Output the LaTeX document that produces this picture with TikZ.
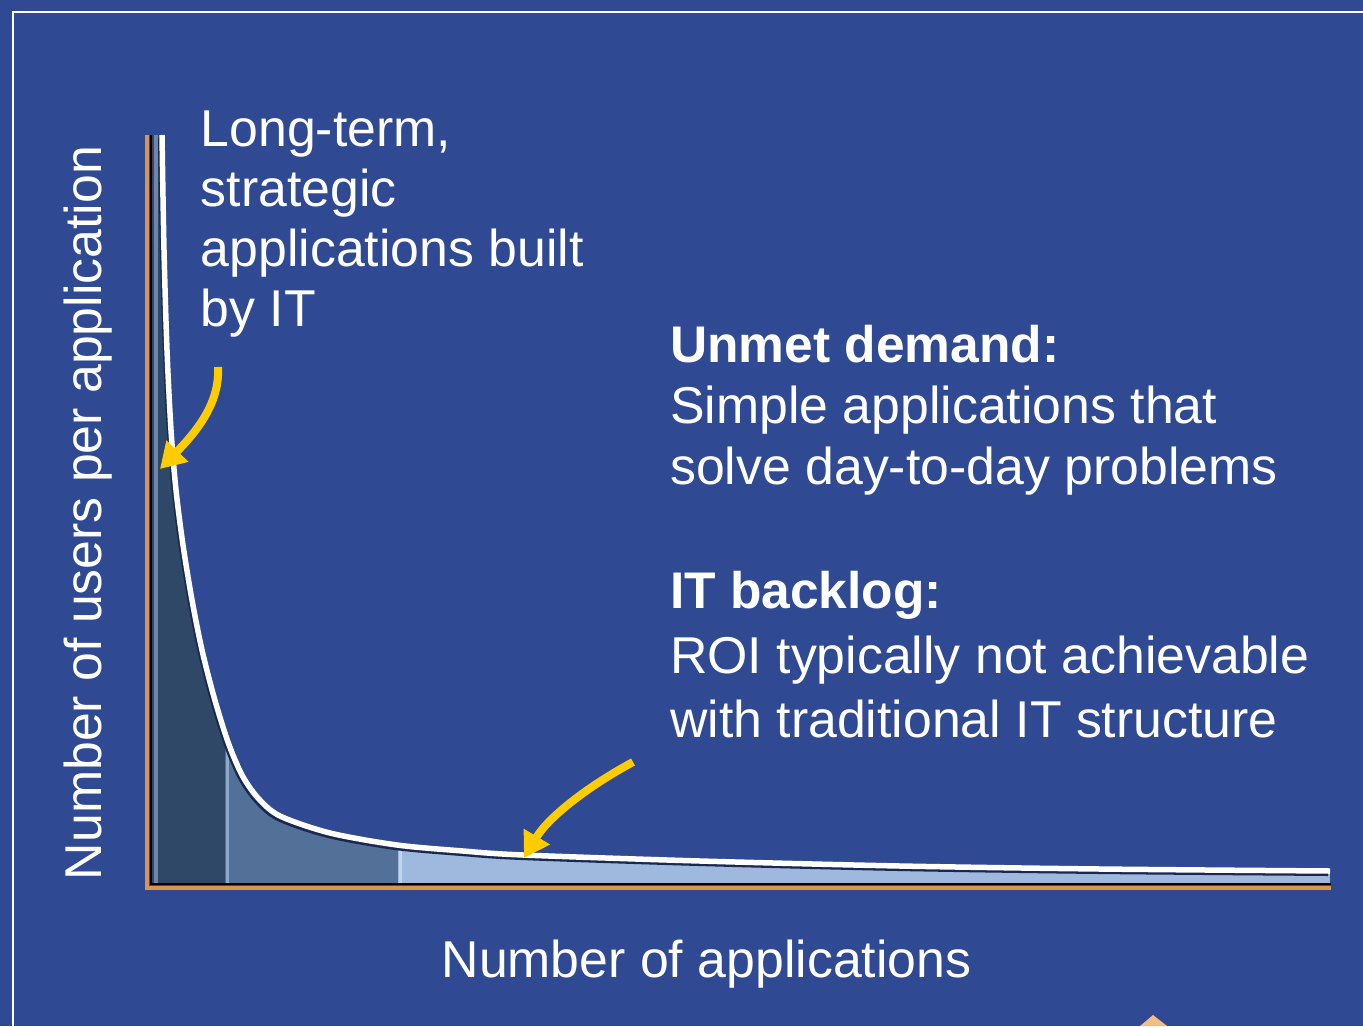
\documentclass[tikz,border=0pt]{standalone}
\usepackage{fontspec}
\setmainfont{Liberation Sans}
\usetikzlibrary{arrows.meta}
\definecolor{bg}{RGB}{47,74,147}
\definecolor{axisorange}{RGB}{216,150,82}
\definecolor{darkfill}{RGB}{47,72,104}
\definecolor{midfill}{RGB}{82,112,152}
\definecolor{lightfill}{RGB}{158,184,222}
\definecolor{curveshadow}{RGB}{24,40,80}
\definecolor{arrowyellow}{RGB}{255,204,0}
\definecolor{peach}{RGB}{244,189,134}
\definecolor{sepA}{RGB}{111,134,168}
\definecolor{sepB}{RGB}{143,167,200}
\definecolor{sepC}{RGB}{192,212,238}
\tikzset{
  lbl/.style={text=white, inner sep=0pt, font=\fontsize{51.8}{60}\selectfont},
  lblb/.style={lbl, font=\fontsize{51.5}{60}\selectfont\bfseries},
  callout/.style={draw=arrowyellow, line width=8pt, -{Triangle[length=25pt,width=29pt]}, arrowyellow},
}
\begin{document}
\begin{tikzpicture}[x=1pt,y=-1pt]
\useasboundingbox (0,0) rectangle (1363,1026);
\fill[bg] (0,0) rectangle (1363,1026);
\draw[white,line width=2pt] (13,1030) -- (13,12) -- (1370,12);

% filled area under the curve
\begin{scope}
\clip (150,135) -- plot[smooth,tension=0.5] coordinates {(162,135) (164,250) (167,350) (171,430) (176,490) (183,545) (192,600) (202,650) (214,697) (228,742) (242,775) (258,798) (280,816) (330,833) (397,845) (463,851) (523,855) (700,861) (900,866) (1100,869) (1330,871)} -- (1330,884) -- (150,884) -- cycle;
\fill[darkfill] (150,100) rectangle (225,890);
\fill[midfill] (225,100) rectangle (398,890);
\fill[lightfill] (398,100) rectangle (1331,890);
\draw[sepA, line width=4pt] (155.5,100) -- (155.5,890);
\draw[sepB, line width=3pt] (227,100) -- (227,890);
\draw[sepC, line width=3pt] (400,100) -- (400,890);
\end{scope}

% curve
\draw[curveshadow, line width=4pt, shift={(-2,3)}] plot[smooth,tension=0.5] coordinates {(162,135) (164,250) (167,350) (171,430) (176,490) (183,545) (192,600) (202,650) (214,697) (228,742) (242,775) (258,798) (280,816) (330,833) (397,845) (463,851) (523,855) (700,861) (900,866) (1100,869) (1330,871)};
\draw[white, line width=5.5pt] plot[smooth,tension=0.5] coordinates {(162,135) (164,250) (167,350) (171,430) (176,490) (183,545) (192,600) (202,650) (214,697) (228,742) (242,775) (258,798) (280,816) (330,833) (397,845) (463,851) (523,855) (700,861) (900,866) (1100,869) (1330,871)};

% axes
\draw[black, line width=2pt] (150.5,135) -- (150.5,884) -- (1331,884);
\draw[axisorange, line width=4.5pt] (147,135) -- (147,888) -- (1331,888);

% texts
\node[lbl, anchor=base west] (t1) at (200.5,146) {Long-term,};
\node[lbl, anchor=base west] (t2) at (200.5,206) {strategic};
\node[lbl, anchor=base west] (t3) at (200.5,266) {applications built};
\node[lbl, anchor=base west] (t4) at (200.5,326) {by IT};

\node[lblb, anchor=base west] (u1) at (670,362) {Unmet demand:};
\node[lbl, anchor=base west] (u2) at (670,423) {Simple applications that};
\node[lbl, anchor=base west] (u3) at (670,484) {solve day-to-day problems};

\node[lblb, anchor=base west] (b1) at (670,608) {IT backlog:};
\node[lbl, anchor=base west] (b2) at (670,673) {ROI typically not achievable};
\node[lbl, anchor=base west] (b3) at (670,737) {with traditional IT structure};

\node[lbl, anchor=base] (xl) at (706.5,977) {Number of applications};
\node[lbl, anchor=base, rotate=90] (yl) at (101,513) {Number of users per application};

% callout arrows
\coordinate (a1s) at (218,367);
\coordinate (a1e) at (160,469);
\coordinate (a2s) at (633,762);
\coordinate (a2e) at (524,858);
\draw[callout] (a1s) .. controls (220,402) and (198,430) .. (a1e);
\draw[callout] (a2s) .. controls (585,788) and (548,818) .. (a2e);

% partial shape at bottom edge
\fill[peach] (1153,1015) -- (1167,1026) -- (1140,1026) -- cycle;
\end{tikzpicture}
\end{document}
